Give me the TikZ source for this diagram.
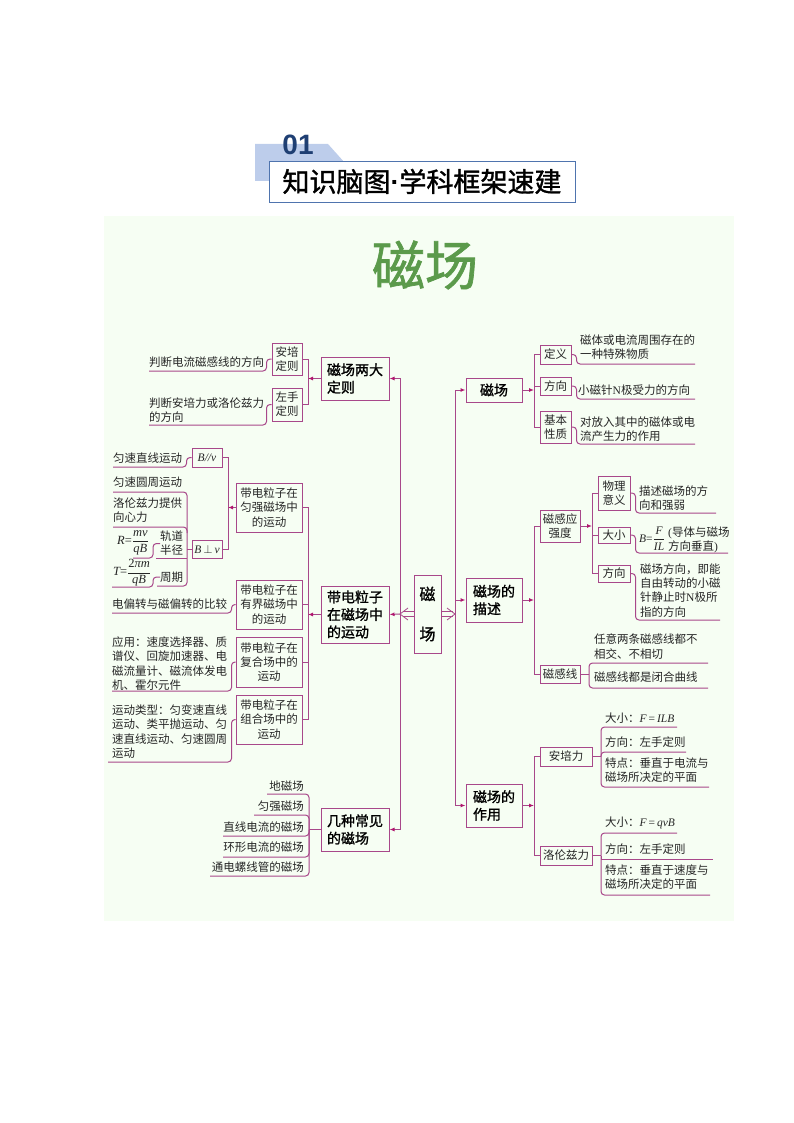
\documentclass[tikz,border=0pt]{standalone}
\usepackage{fontspec}
\usepackage{amsmath}
\setmainfont{Noto Sans CJK SC}
\newfontfamily\latinserif{Liberation Serif}
\newfontfamily\digitfont{Liberation Sans}
\newfontfamily\heavyfont[FakeBold=1.3]{Noto Sans CJK SC}
\newcommand{\ital}[1]{{\latinserif\itshape #1}}
\usetikzlibrary{arrows.meta}
\definecolor{panelc}{HTML}{F6FEF3}
\definecolor{linkc}{HTML}{A8488A}
\definecolor{tipc}{HTML}{B0176E}
\definecolor{textc}{HTML}{262626}
\definecolor{bannerc}{HTML}{BDCDEB}
\definecolor{framec}{HTML}{4F74AE}
\definecolor{navyc}{HTML}{1F3F73}
\definecolor{greenc}{HTML}{5B9A4B}

\begin{document}
\begin{tikzpicture}[x=1pt, y=-1pt,
	lnk/.style={draw=linkc, line width=1pt},
	rnd/.style={lnk, rounded corners=3.5pt},
	tip/.style={lnk, -{Latex[length=5pt, width=4pt, color=tipc]}},
	twin/.style={draw=linkc, line width=.8pt},
	big/.style={draw=linkc, line width=1pt, inner sep=0pt, minimum width=68pt, minimum height=43pt, align=left, text=black, font=\heavyfont\fontsize{14}{17.5}\selectfont},
	box/.style={draw=linkc, line width=1pt, inner sep=0pt, minimum width=30pt, align=center, text=textc, font=\fontsize{11.5}{14.2}\selectfont},
	wide/.style={box, minimum width=66pt, minimum height=49pt},
	leaf/.style={anchor=west, inner sep=0pt, align=left, text=textc, font=\fontsize{11.5}{14.2}\selectfont},
	formula/.style={leaf, font=\fontsize{12.5}{15}\selectfont},
	rleaf/.style={leaf, anchor=east, align=right}]
	\useasboundingbox (0, 0) rectangle (794, 1123);
	\fill[panelc] (104, 216) rectangle (734, 921);

	% heading
	\fill[bannerc] (255, 144) -- (328, 144) -- (345, 163) -- (345, 181) -- (255, 181) -- cycle;
	\node[draw=framec, fill=white, line width=.9pt, minimum width=306pt, minimum height=41pt, inner sep=0pt, font=\heavyfont\fontsize{27}{30}\selectfont] (heading) at (422, 181.5) {知识脑图{\digitfont\bfseries ·}学科框架速建};
	\node[text=navyc, inner sep=0pt, font=\digitfont\fontsize{28}{30}\selectfont\bfseries] (number) at (298, 145) {01};
	\node[text=greenc, inner sep=0pt, font=\heavyfont\fontsize{53}{56}\selectfont] (title) at (425, 265) {磁场};

	% centre
	\node[big, minimum width=27pt, minimum height=78pt, align=center, font=\heavyfont\fontsize{16}{40}\selectfont] (centre) at (427.5, 614) {磁\\场};
	\coordinate (busl) at (400, 614);
	\coordinate (busr) at (455, 614);
	\draw[twin] ([yshift=2.5pt]centre.west) -- ++(-11, 0);
	\draw[twin] ([yshift=-2.5pt]centre.west) -- ++(-11, 0);
	\draw[twin] ([shift={(8, -6)}]busl) -- (busl) -- ([shift={(8, 6)}]busl);
	\draw[twin] ([yshift=2.5pt]centre.east) -- ++(11, 0);
	\draw[twin] ([yshift=-2.5pt]centre.east) -- ++(11, 0);
	\draw[twin] ([shift={(-8, -6)}]busr) -- (busr) -- ([shift={(-8, 6)}]busr);

	% left side
	\node[big] (rules) at (355, 378.5) {磁场两大\\定则};
	\node[big, minimum height=57pt] (motion) at (355, 614.5) {带电粒子\\在磁场中\\的运动};
	\node[big] (kinds) at (355, 829.5) {几种常见\\的磁场};
	\draw[tip] (busl) |- (rules.east);
	\draw[tip] (busl) -- (motion.east);
	\draw[tip] (busl) |- (kinds.east);

	\node[box, minimum height=32pt] (ampere) at (287, 359) {安培\\定则};
	\node[box, minimum height=33pt] (lefthand) at (287, 404.5) {左手\\定则};
	\coordinate (brule) at (308, 378.5);
	\draw[lnk] (ampere.east) -| (brule);
	\draw[lnk] (lefthand.east) -| (brule);
	\draw[tip] (rules.west) -- (brule);
	\node[leaf] (amperetext) at (149, 362) {判断电流磁感线的方向};
	\node[leaf] (lefttext) at (149, 410) {判断安培力或洛伦兹力\\的方向};
	\coordinate (amperend) at (149, 371);
	\coordinate (leftend) at (149, 425);
	\draw[rnd] (ampere.west) -- ++(-5, 0) |- (amperend);
	\draw[rnd] (lefthand.west) -- ++(-5, 0) |- (leftend);

	\node[wide] (uniform) at (269, 507.5) {带电粒子在\\匀强磁场中\\的运动};
	\node[wide] (bounded) at (269, 604.5) {带电粒子在\\有界磁场中\\的运动};
	\node[wide, minimum height=50pt] (compound) at (269, 662) {带电粒子在\\复合场中的\\运动};
	\node[wide] (combined) at (269, 719.5) {带电粒子在\\组合场中的\\运动};
	\coordinate (bfield) at (308, 614.5);
	\draw[lnk] (uniform.east) -| (bfield);
	\draw[lnk] (bounded.east) -| (bfield);
	\draw[lnk] (compound.east) -| (bfield);
	\draw[lnk] (combined.east) -| (bfield);
	\draw[tip] (motion.west) -- (bfield);

	\node[box, minimum height=19pt] (bpar) at (207, 457.5) {\ital{B//v}};
	\node[box, minimum height=18pt] (bper) at (207, 549) {\ital{B}$\,\perp\,$\ital{v}};
	\coordinate (bunif) at (228, 507.5);
	\draw[lnk] (bpar.east) -| (bunif);
	\draw[lnk] (bper.east) -| (bunif);
	\draw[tip] (uniform.west) -- (bunif);

	\node[leaf] (straight) at (113, 458) {匀速直线运动};
	\coordinate (straightend) at (113, 467);
	\draw[rnd] (bpar.west) -- ++(-5, 0) |- (straightend);

	\node[leaf] (circle) at (113, 482) {匀速圆周运动};
	\node[leaf] (force) at (113, 510.5) {洛伦兹力提供\\向心力};
	\node[leaf] (radius) at (160, 543.5) {轨道\\半径};
	\node[leaf] (period) at (160, 577) {周期};
	\node[formula] (rformula) at (117, 543) {\ital{R}{\latinserif =}$\dfrac{\text{\ital{mv}}}{\text{\ital{qB}}}$};
	\node[formula] (tformula) at (113, 573) {\ital{T}{\latinserif =}$\dfrac{\text{{\latinserif 2}\ital{πm}}}{\text{\ital{qB}}}$};
	\coordinate (circleend) at (113, 492);
	\coordinate (forceend) at (113, 527);
	\coordinate (radiusend) at (156, 558);
	\coordinate (periodend) at (157, 586);
	\coordinate (rend) at (133, 558);
	\coordinate (tend) at (112, 587);
	\coordinate (spine) at (187, 586);
	\coordinate (spinemid) at (187, 533);
	\draw[rnd] (circleend) -| (spine) -- (periodend);
	\draw[rnd] (forceend) -| (spinemid);
	\draw[lnk] (radiusend) -- (radiusend -| spine);
	\draw[lnk] (bper.west) -- (bper.west -| spine);
	\draw[rnd] (radius.west) -- ++(-7, 0) |- (rend);
	\draw[rnd] (period.west) -- ++(-7, 0) |- (tend);

	\node[leaf] (compare) at (112, 604) {电偏转与磁偏转的比较};
	\coordinate (compareend) at (112, 613);
	\draw[rnd] (bounded.west) -- ++(-4, 0) |- (compareend);
	\node[leaf] (apply) at (112, 663.5) {应用：速度选择器、质\\谱仪、回旋加速器、电\\磁流量计、磁流体发电\\机、霍尔元件};
	\coordinate (applyend) at (112, 691);
	\draw[rnd] (compound.west) -- ++(-4, 0) |- (applyend);
	\node[leaf] (types) at (112, 731.5) {运动类型：匀变速直线\\运动、类平抛运动、匀\\速直线运动、匀速圆周\\运动};
	\coordinate (typesend) at (108, 762);
	\draw[rnd] (combined.west) -- ++(-4, 0) |- (typesend);

	\node[rleaf] (earth) at (304, 786) {地磁场};
	\node[rleaf] (even) at (304, 806) {匀强磁场};
	\node[rleaf] (wire) at (304, 827) {直线电流的磁场};
	\node[rleaf] (ring) at (304, 847) {环形电流的磁场};
	\node[rleaf] (coil) at (304, 867) {通电螺线管的磁场};
	\coordinate (earthend) at (267, 794);
	\coordinate (evenend) at (254, 815);
	\coordinate (wireend) at (223, 836);
	\coordinate (ringend) at (223, 857);
	\coordinate (coilend) at (210, 876);
	\coordinate (kindsbus) at (309, 829.5);
	\draw[rnd] (earthend) -| (kindsbus);
	\draw[rnd] (evenend) -| (kindsbus);
	\draw[rnd] (wireend) -| (kindsbus);
	\draw[rnd] (ringend) -| (kindsbus);
	\draw[rnd] (coilend) -| (kindsbus);
	\draw[lnk] (kinds.west) -- (kindsbus);

	% right side
	\node[big, minimum width=56pt, minimum height=24pt, align=center] (field) at (494, 390) {磁场};
	\node[big, minimum width=56pt, minimum height=44pt] (describe) at (494, 600) {磁场的\\描述};
	\node[big, minimum width=56pt] (effect) at (494, 805.5) {磁场的\\作用};
	\draw[tip] (busr) |- (field.west);
	\draw[tip] (busr) |- (describe.west);
	\draw[tip] (busr) |- (effect.west);

	\node[box, minimum width=31pt, minimum height=19pt] (define) at (555.5, 354.5) {定义};
	\node[box, minimum width=31pt, minimum height=18pt] (direction) at (555.5, 386) {方向};
	\node[box, minimum width=31pt, minimum height=32pt] (nature) at (555.5, 427) {基本\\性质};
	\coordinate (bfieldr) at (534, 390);
	\draw[tip] (field.east) -- (bfieldr);
	\draw[lnk] (define.west) -| (bfieldr);
	\draw[lnk] (direction.west) -| (bfieldr);
	\draw[lnk] (nature.west) -| (bfieldr);
	\node[leaf] (definetext) at (580, 347) {磁体或电流周围存在的\\一种特殊物质};
	\node[leaf] (directiontext) at (578, 390) {小磁针{\latinserif N}极受力的方向};
	\node[leaf] (naturetext) at (580, 429) {对放入其中的磁体或电\\流产生力的作用};
	\coordinate (defineend) at (695, 364);
	\coordinate (directionend) at (695, 399);
	\coordinate (natureend) at (695, 444);
	\draw[rnd] (define.east) -- ++(5, 0) |- (defineend);
	\draw[rnd] (direction.east) -- ++(5, 0) |- (directionend);
	\draw[rnd] (nature.east) -- ++(5, 0) |- (natureend);

	\node[box, minimum width=40pt, minimum height=32pt] (induction) at (560, 526) {磁感应\\强度};
	\node[box, minimum width=40pt, minimum height=18pt] (lines) at (560, 674) {磁感线};
	\coordinate (bdescr) at (534, 600);
	\draw[tip] (describe.east) -- (bdescr);
	\draw[lnk] (induction.west) -| (bdescr);
	\draw[lnk] (lines.west) -| (bdescr);

	\node[box, minimum width=32pt, minimum height=34pt] (meaning) at (614, 493) {物理\\意义};
	\node[box, minimum width=32pt, minimum height=16pt] (size) at (614, 535) {大小};
	\node[box, minimum width=32pt, minimum height=17pt] (sense) at (614, 573.5) {方向};
	\coordinate (bind) at (592, 531);
	\draw[lnk] (meaning.west) -| (bind);
	\draw[lnk] (sense.west) -| (bind);
	\draw[lnk] (size.west) -- (size.west -| bind);
	\draw[tip] (induction.east) -- (induction.east -| bind);
	\node[leaf] (meaningtext) at (639, 498) {描述磁场的方\\向和强弱};
	\node[leaf] (sizemath) at (639, 539) {\ital{B}{\latinserif =}$\dfrac{\text{\ital{F}}}{\text{\ital{IL}}}$};
	\node[leaf] (sizetext) at (668, 539.5) {{\latinserif(}导体与磁场\\方向垂直{\latinserif)}};
	\node[leaf] (sensetext) at (640, 590.5) {磁场方向，即能\\自由转动的小磁\\针静止时{\latinserif N}极所\\指的方向};
	\coordinate (meaningend) at (716, 513);
	\coordinate (sizeend) at (728, 553);
	\coordinate (senseend) at (720, 620);
	\draw[rnd] (meaning.east) -- ++(5, 0) |- (meaningend);
	\draw[rnd] (size.east) -- ++(5, 0) |- (sizeend);
	\draw[rnd] (sense.east) -- ++(5, 0) |- (senseend);

	\node[leaf] (cross) at (594, 646.5) {任意两条磁感线都不\\相交、不相切};
	\node[leaf] (closed) at (594, 677) {磁感线都是闭合曲线};
	\coordinate (crossend) at (708, 663);
	\coordinate (closedend) at (708, 688);
	\coordinate (blines) at (589, 674);
	\draw[lnk] (lines.east) -- (blines);
	\draw[rnd] (blines) |- (crossend);
	\draw[rnd] (blines) |- (closedend);

	\node[box, minimum width=52pt, minimum height=19pt] (amperef) at (566, 756.5) {安培力};
	\node[box, minimum width=52pt, minimum height=19pt] (lorentz) at (566, 855.5) {洛伦兹力};
	\coordinate (beffect) at (534, 805.5);
	\draw[tip] (effect.east) -- (beffect);
	\draw[lnk] (amperef.west) -| (beffect);
	\draw[lnk] (lorentz.west) -| (beffect);

	\node[leaf] (asize) at (605, 718) {大小：\ital{F}{\latinserif\,=\,}\ital{ILB}};
	\node[leaf] (asense) at (605, 742) {方向：左手定则};
	\node[leaf] (atrait) at (605, 770) {特点：垂直于电流与\\磁场所决定的平面};
	\coordinate (asizeend) at (677, 727);
	\coordinate (asenseend) at (686, 752);
	\coordinate (atraitend) at (709, 787);
	\coordinate (abus) at (601, 756.5);
	\draw[lnk] (amperef.east) -- (abus);
	\draw[rnd] (abus) |- (asizeend);
	\draw[rnd] (abus) |- (asenseend);
	\draw[rnd] (abus) |- (atraitend);

	\node[leaf] (lsize) at (605, 823) {大小：\ital{F}{\latinserif\,=\,}\ital{qvB}};
	\node[leaf] (lsense) at (605, 849) {方向：左手定则};
	\node[leaf] (ltrait) at (605, 877.5) {特点：垂直于速度与\\磁场所决定的平面};
	\coordinate (lsizeend) at (677, 833);
	\coordinate (lsenseend) at (713, 859);
	\coordinate (ltraitend) at (710, 895);
	\coordinate (lbus) at (601, 855.5);
	\draw[lnk] (lorentz.east) -- (lbus);
	\draw[rnd] (lbus) |- (lsizeend);
	\draw[lnk] (lbus) -- (lbus |- lsenseend) -- (lsenseend);
	\draw[rnd] (lbus) |- (ltraitend);
\end{tikzpicture}
\end{document}
